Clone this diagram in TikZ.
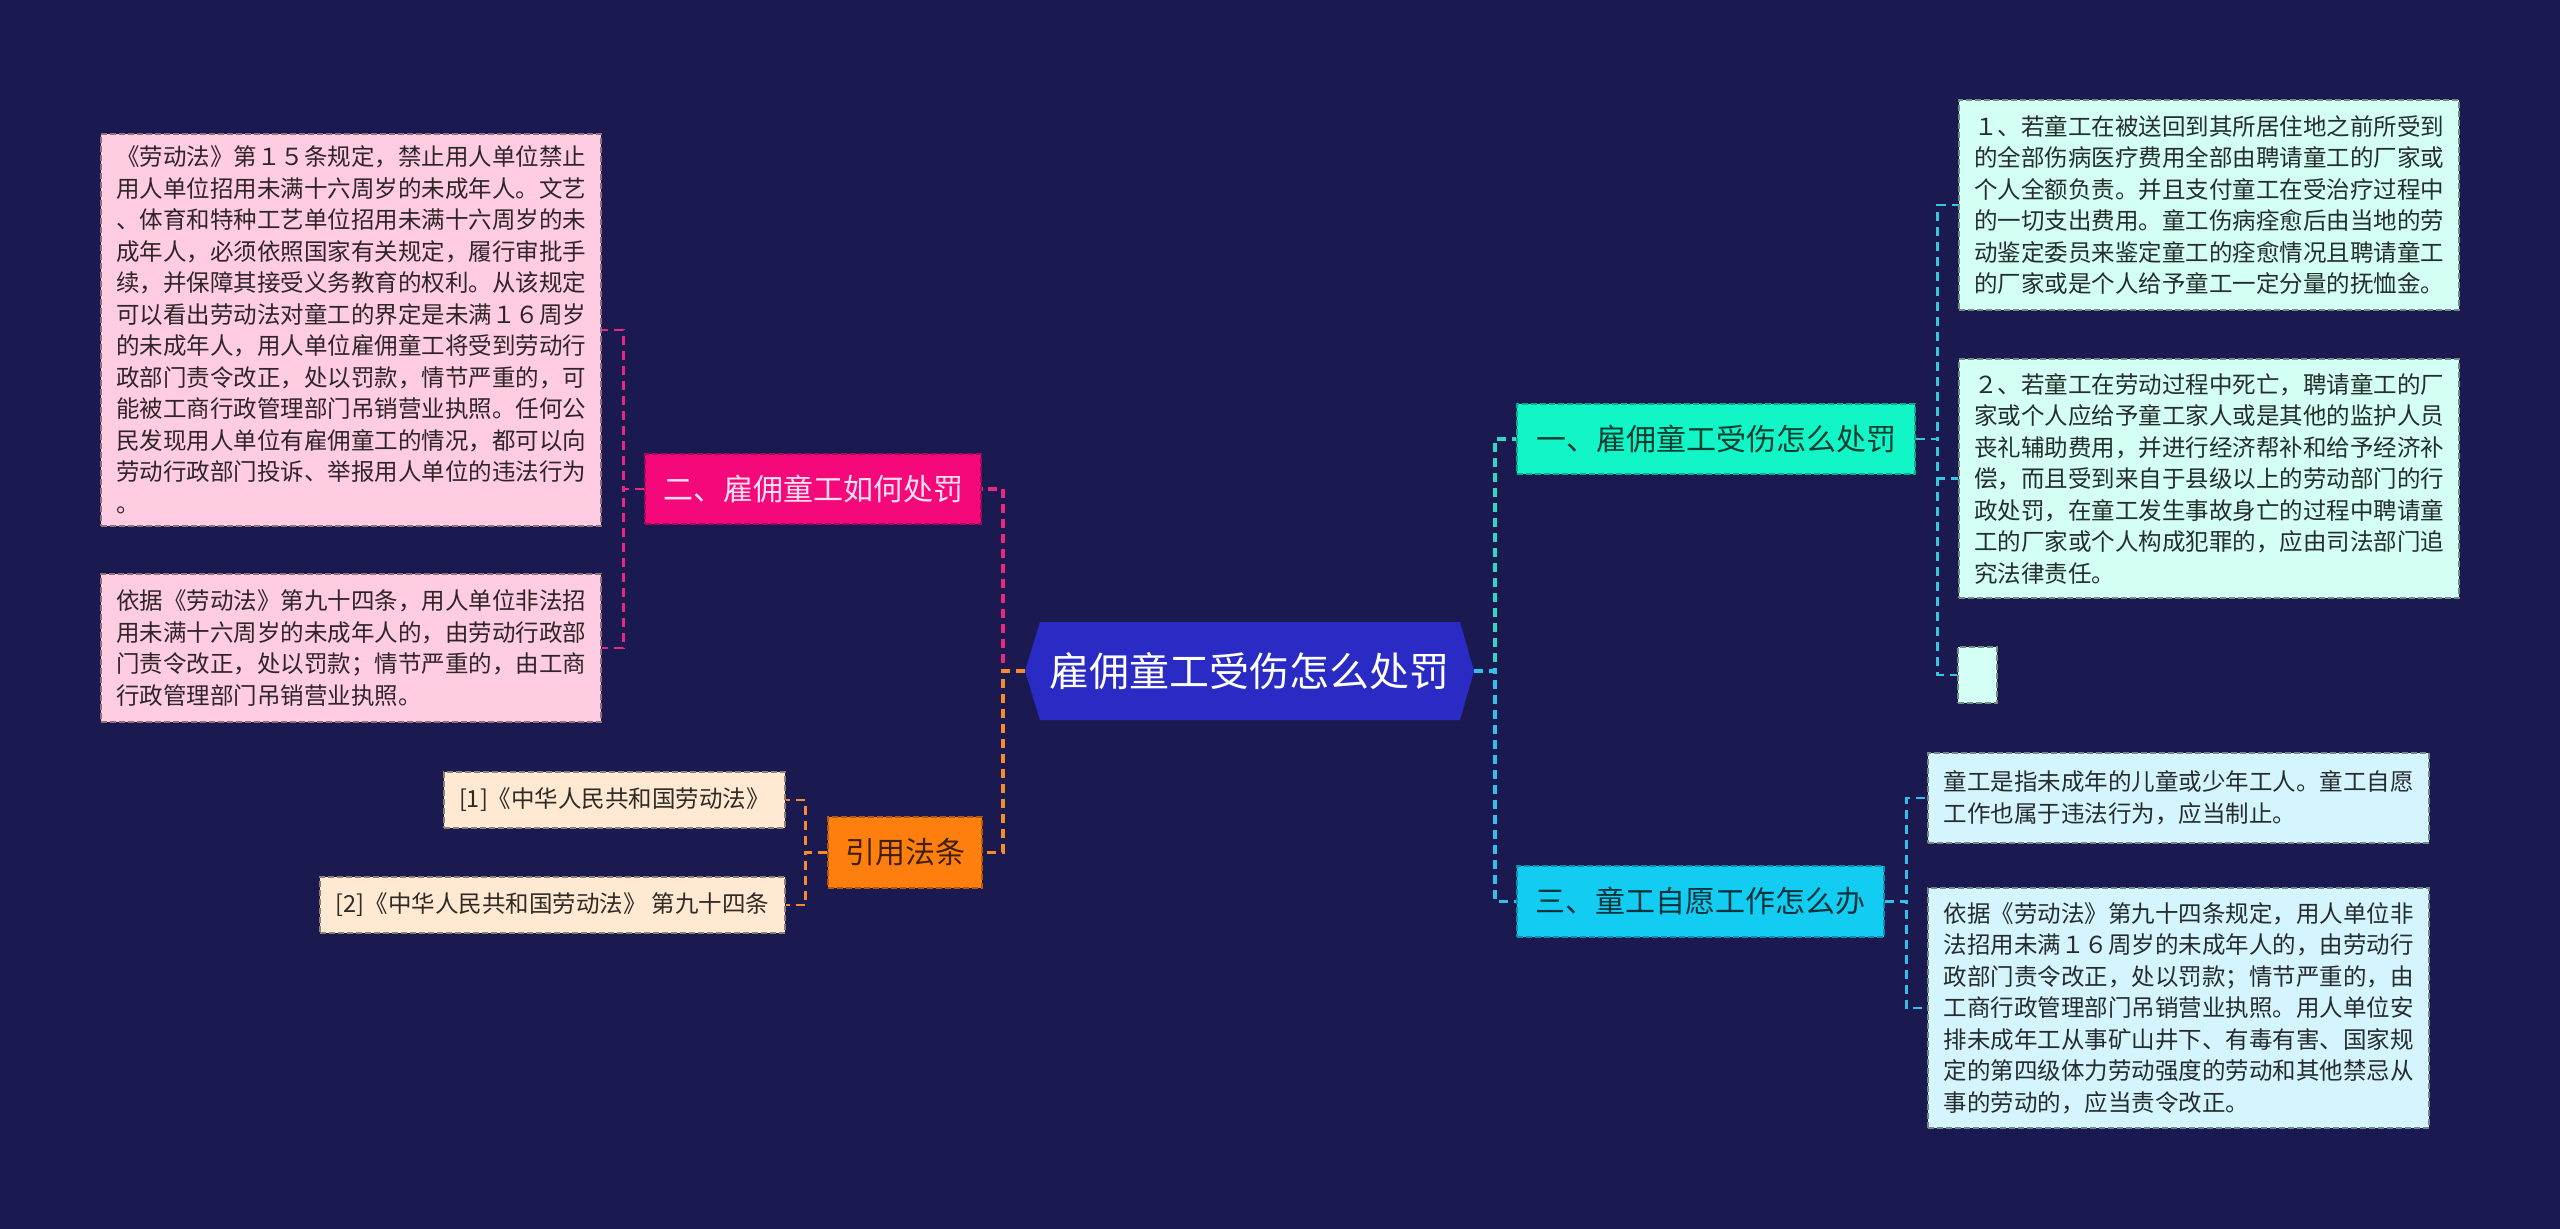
\documentclass[tikz,border=0pt]{standalone}
\usepackage{fontspec}
\setmainfont{Noto Sans CJK SC}
\definecolor{bg}{HTML}{1B1A50}
\definecolor{hexfill}{HTML}{2A2BC4}
\definecolor{pinkA}{HTML}{F5097A}
\definecolor{pinkB}{HTML}{FFCCE1}
\definecolor{orA}{HTML}{FF7F0E}
\definecolor{orB}{HTML}{FFE9D2}
\definecolor{tealA}{HTML}{12F5C6}
\definecolor{tealB}{HTML}{D3FFF4}
\definecolor{cyA}{HTML}{12CCF2}
\definecolor{cyB}{HTML}{D4F5FD}
\definecolor{lnPink}{HTML}{E8287F}
\definecolor{lnOr}{HTML}{F58A2E}
\definecolor{lnTeal}{HTML}{2ED8C3}
\definecolor{lnCy}{HTML}{30C0EB}
\definecolor{lnCyB}{HTML}{33C9DE}
\begin{document}
\begin{tikzpicture}[x=1pt,y=-1pt,
  box/.style={rectangle,inner sep=0pt,line width=1.5pt,dash pattern=on 6pt off 3pt},
  leaf/.style={box,align=left,font=\fontsize{23.5}{31.5}\selectfont},
  lvl/.style={box,align=center,font=\fontsize{30}{36}\selectfont},
  conn/.style={line width=3.5pt,dash pattern=on 9pt off 6pt},
  lconn/.style={line width=2.6pt,dash pattern=on 9pt off 6pt}]
\fill[bg] (0,0) rectangle (2560,1229);
\useasboundingbox (0,0) rectangle (2560,1229);

% central hexagon
\fill[hexfill] (1025,671) -- (1040,622) -- (1460,622) -- (1474,671) -- (1460,720) -- (1040,720) -- cycle;
\node[inner sep=0pt,minimum width=449pt,minimum height=98pt,text=white,font=\fontsize{40}{48}\selectfont] (c) at (1249.5,671) {雇佣童工受伤怎么处罚};

% level 1
\node[lvl,fill=pinkA,draw=pinkA!70!black,text=white!88!pinkA,minimum width=336pt,minimum height=70pt] (er) at (813,489) {二、雇佣童工如何处罚};
\node[lvl,fill=orA,draw=orA!70!black,text=orA!25!black,minimum width=154pt,minimum height=71pt] (yin) at (905,852.5) {引用法条};
\node[lvl,fill=tealA,draw=tealA!70!black,text=tealA!25!black,minimum width=398pt,minimum height=70pt] (yi) at (1716,439) {一、雇佣童工受伤怎么处罚};
\node[lvl,fill=cyA,draw=cyA!70!black,text=cyA!25!black,minimum width=367pt,minimum height=71pt] (san) at (1700.5,901.5) {三、童工自愿工作怎么办};

% pink leaves
\node[leaf,fill=pinkB,draw=pinkB!55!black,text=pinkB!18!black,minimum width=500pt,minimum height=392pt] (p1) at (351,330) {《劳动法》第１５条规定，禁止用人单位禁止\\用人单位招用未满十六周岁的未成年人。文艺\\、体育和特种工艺单位招用未满十六周岁的未\\成年人，必须依照国家有关规定，履行审批手\\续，并保障其接受义务教育的权利。从该规定\\可以看出劳动法对童工的界定是未满１６周岁\\的未成年人，用人单位雇佣童工将受到劳动行\\政部门责令改正，处以罚款，情节严重的，可\\能被工商行政管理部门吊销营业执照。任何公\\民发现用人单位有雇佣童工的情况，都可以向\\劳动行政部门投诉、举报用人单位的违法行为\\。};
\node[leaf,fill=pinkB,draw=pinkB!55!black,text=pinkB!18!black,minimum width=500pt,minimum height=148pt] (p2) at (351,648) {依据《劳动法》第九十四条，用人单位非法招\\用未满十六周岁的未成年人的，由劳动行政部\\门责令改正，处以罚款；情节严重的，由工商\\行政管理部门吊销营业执照。};

% peach leaves
\node[leaf,fill=orB,draw=orB!55!black,text=orB!18!black,minimum width=341pt,minimum height=56pt] (b1) at (614.5,800) {[1]《中华人民共和国劳动法》};
\node[leaf,fill=orB,draw=orB!55!black,text=orB!18!black,minimum width=465pt,minimum height=56pt] (b2) at (552.5,905) {[2]《中华人民共和国劳动法》 第九十四条};

% mint leaves
\node[leaf,fill=tealB,draw=tealB!55!black,text=tealB!18!black,minimum width=500pt,minimum height=210pt] (r1) at (2209,205) {１、若童工在被送回到其所居住地之前所受到\\的全部伤病医疗费用全部由聘请童工的厂家或\\个人全额负责。并且支付童工在受治疗过程中\\的一切支出费用。童工伤病痊愈后由当地的劳\\动鉴定委员来鉴定童工的痊愈情况且聘请童工\\的厂家或是个人给予童工一定分量的抚恤金。};
\node[leaf,fill=tealB,draw=tealB!55!black,text=tealB!18!black,minimum width=500pt,minimum height=239pt] (r2) at (2209,478.5) {２、若童工在劳动过程中死亡，聘请童工的厂\\家或个人应给予童工家人或是其他的监护人员\\丧礼辅助费用，并进行经济帮补和给予经济补\\偿，而且受到来自于县级以上的劳动部门的行\\政处罚，在童工发生事故身亡的过程中聘请童\\工的厂家或个人构成犯罪的，应由司法部门追\\究法律责任。};
\node[leaf,fill=tealB,draw=tealB!55!black,minimum width=39pt,minimum height=56pt] (r3) at (1977.5,675) {};

% light cyan leaves
\node[leaf,fill=cyB,draw=cyB!55!black,text=cyB!18!black,minimum width=501pt,minimum height=90pt] (ca) at (2178.5,798) {童工是指未成年的儿童或少年工人。童工自愿\\工作也属于违法行为，应当制止。};
\node[leaf,fill=cyB,draw=cyB!55!black,text=cyB!18!black,minimum width=501pt,minimum height=240pt] (cb) at (2178.5,1008) {依据《劳动法》第九十四条规定，用人单位非\\法招用未满１６周岁的未成年人的，由劳动行\\政部门责令改正，处以罚款；情节严重的，由\\工商行政管理部门吊销营业执照。用人单位安\\排未成年工从事矿山井下、有毒有害、国家规\\定的第四级体力劳动强度的劳动和其他禁忌从\\事的劳动的，应当责令改正。};

% connectors
\draw[conn,lnPink] (c.west) -- ++(-22,0) |- (er.east);
\draw[conn,lnOr] (c.west) -- ++(-22,0) |- (yin.east);
\draw[lconn,lnPink] (er.west) -- ++(-21,0) |- (p1.east);
\draw[lconn,lnPink] (er.west) -- ++(-21,0) |- (p2.east);
\draw[lconn,lnOr] (yin.west) -- ++(-22,0) |- (b1.east);
\draw[lconn,lnOr] (yin.west) -- ++(-22,0) |- (b2.east);
\draw[conn,lnTeal] (c.east) -- ++(21,0) |- (yi.west);
\draw[conn,lnCy] (c.east) -- ++(21,0) |- (san.west);
\draw[lconn,lnCyB] (yi.east) -- ++(22,0) |- (r1.west);
\draw[lconn,lnCyB] (yi.east) -- ++(22,0) |- (r2.west);
\draw[lconn,lnCyB] (yi.east) -- ++(22,0) |- (r3.west);
\draw[lconn,lnCy] (san.east) -- ++(22,0) |- (ca.west);
\draw[lconn,lnCy] (san.east) -- ++(22,0) |- (cb.west);
\end{tikzpicture}
\end{document}
